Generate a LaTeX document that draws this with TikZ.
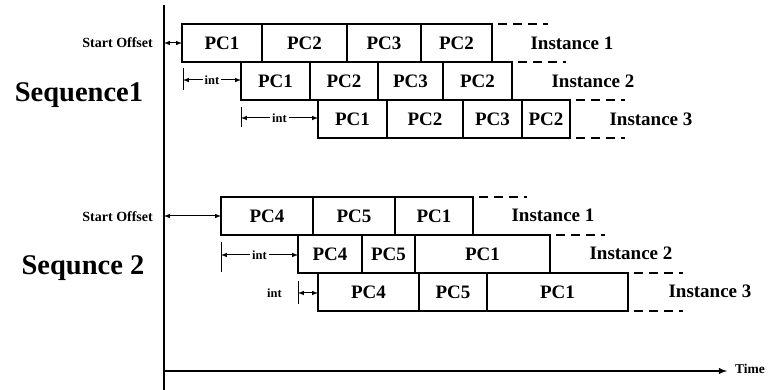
\documentclass[tikz,border=0pt]{standalone}
\usepackage{fontspec}
\setmainfont{Liberation Serif}
\usetikzlibrary{arrows,positioning}
\tikzstyle{slot}=[rectangle,draw,line width=2.4pt,outer sep=0pt,inner sep=0pt,minimum height=38pt,font=\fontsize{19}{22}\selectfont\bfseries]
\tikzstyle{inst}=[font=\fontsize{19}{22}\selectfont\bfseries]
\tikzstyle{seqlbl}=[font=\fontsize{28.5}{32}\selectfont\bfseries]
\tikzstyle{offlbl}=[font=\fontsize{14}{16}\selectfont\bfseries,anchor=east,inner sep=1pt]
\tikzstyle{note}=[font=\fontsize{12.5}{14}\selectfont\bfseries,inner sep=2pt]
\tikzstyle{tail}=[line width=2.4pt,dash pattern=on 9pt off 6pt,dash phase=9pt]
\tikzstyle{dimarr}=[latex-latex,line width=1pt]
\tikzstyle{tickln}=[line width=1pt]
\tikzstyle{axisln}=[line width=1.8pt]

\begin{document}
\begin{tikzpicture}[x=1pt,y=-1pt]
\useasboundingbox (0,0) rectangle (769,390);
% axes
\coordinate (ytop) at (164,5);
\coordinate (ybot) at (164,390);
\coordinate (orig) at (164,371);
\coordinate (xend) at (727,371);
\draw[axisln] (ytop) -- (ybot);
\draw[axisln,-latex] (orig) -- (xend);
\node[note,font=\fontsize{13.5}{15}\selectfont\bfseries,anchor=west] (time) at (733,369) {Time};

% sequence 1
\node[seqlbl] (seq1) at (79,95) {Sequence1};
\node[slot,minimum width=80pt,anchor=north west] (a1) at (182,24) {PC1};
\node[slot,minimum width=85pt,right=0pt of a1] (a2) {PC2};
\node[slot,minimum width=74pt,right=0pt of a2] (a3) {PC3};
\node[slot,minimum width=71pt,right=0pt of a3] (a4) {PC2};
\node[slot,minimum width=69pt,anchor=north west] (b1) at (241,62) {PC1};
\node[slot,minimum width=68pt,right=0pt of b1] (b2) {PC2};
\node[slot,minimum width=65pt,right=0pt of b2] (b3) {PC3};
\node[slot,minimum width=69pt,right=0pt of b3] (b4) {PC2};
\node[slot,minimum width=69pt,anchor=north west] (c1) at (318,100) {PC1};
\node[slot,minimum width=76pt,right=0pt of c1] (c2) {PC2};
\node[slot,minimum width=59pt,right=0pt of c2] (c3) {PC3};
\node[slot,minimum width=48pt,right=0pt of c3] (c4) {PC2};
\node[inst] (i11) at (572,43) {Instance 1};
\node[inst] (i12) at (593,81) {Instance 2};
\node[inst] (i13) at (651,119) {Instance 3};
\draw[tail] (a4.north east) -- ++(56,0);
\draw[tail] (b4.north east) -- ++(54,0);
\draw[tail] (c4.north east) -- ++(55,0);
\draw[tail] (c4.south east) -- ++(55,0);
\node[offlbl] (so1) at (154,43) {Start Offset};
\draw[dimarr] (a1.west -| ytop) -- (a1.west);
\coordinate (t1) at (183,80);
\draw[tickln] (t1) ++(0,-12) -- ++(0,22);
\draw[dimarr] (t1) -- node[note,fill=white] (n1) {int} (b1.west |- t1);
\coordinate (t2) at (241,118);
\draw[tickln] (t2) ++(0,-11) -- ++(0,20);
\draw[dimarr] (t2) -- node[note,fill=white] (n2) {int} (c1.west |- t2);

% sequence 2
\node[seqlbl] (seq2) at (83,268) {Sequnce 2};
\node[slot,minimum width=92pt,anchor=north west] (d1) at (221,197) {PC4};
\node[slot,minimum width=82pt,right=0pt of d1] (d2) {PC5};
\node[slot,minimum width=78pt,right=0pt of d2] (d3) {PC1};
\node[slot,minimum width=64pt,anchor=north west] (e1) at (298,235) {PC4};
\node[slot,minimum width=53pt,right=0pt of e1] (e2) {PC5};
\node[slot,minimum width=135pt,right=0pt of e2] (e3) {PC1};
\node[slot,minimum width=101pt,anchor=north west] (f1) at (318,273) {PC4};
\node[slot,minimum width=68pt,right=0pt of f1] (f2) {PC5};
\node[slot,minimum width=141pt,right=0pt of f2] (f3) {PC1};
\node[inst] (i21) at (553,215) {Instance 1};
\node[inst] (i22) at (631,253) {Instance 2};
\node[inst] (i23) at (710,291) {Instance 3};
\draw[tail] (d3.north east) -- ++(54,0);
\draw[tail] (e3.north east) -- ++(55,0);
\draw[tail] (f3.north east) -- ++(55,0);
\draw[tail] (f3.south east) -- ++(55,0);
\node[offlbl] (so2) at (154,217) {Start Offset};
\draw[dimarr] (d1.west -| ytop) -- (d1.west);
\coordinate (t3) at (221,255);
\draw[tickln] (t3) ++(0,-13) -- ++(0,30);
\draw[dimarr] (t3) -- node[note,fill=white] (n3) {int} (e1.west |- t3);
\coordinate (t4) at (298,293);
\draw[tickln] (t4) ++(0,-12) -- ++(0,23);
\draw[dimarr] (t4) -- (f1.west |- t4);
\node[note,anchor=east] (n4) at (284,293) {int};
\end{tikzpicture}
\end{document}
